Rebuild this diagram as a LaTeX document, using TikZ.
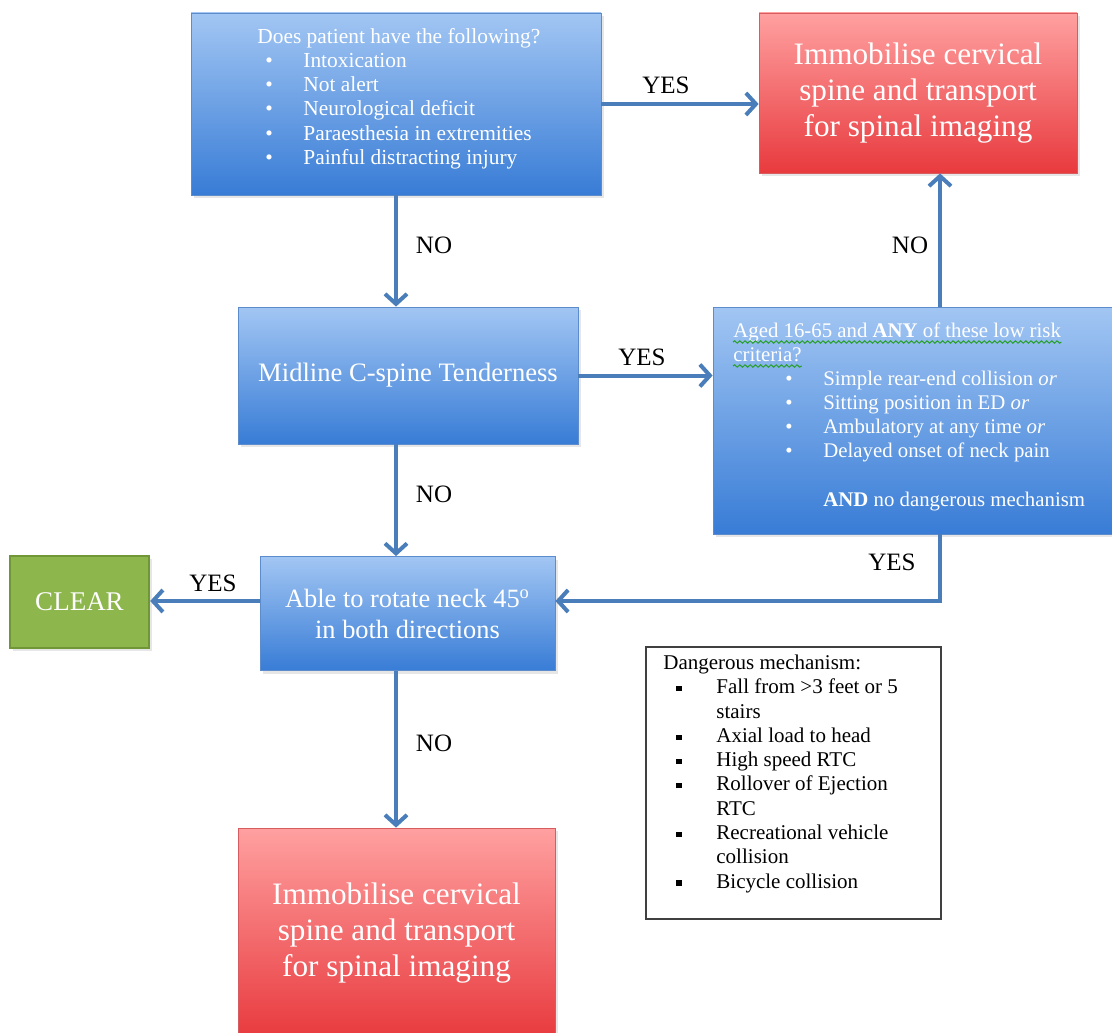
\documentclass[tikz,border=0pt]{standalone}
\usepackage{fontspec}
\setmainfont{Liberation Serif}
\usetikzlibrary{arrows.meta,shadows,decorations.pathmorphing}
\definecolor{bluetop}{RGB}{162,198,243}
\definecolor{bluebot}{RGB}{56,124,214}
\definecolor{blueedge}{RGB}{92,140,204}
\definecolor{redtop}{RGB}{255,160,160}
\definecolor{redbot}{RGB}{232,58,62}
\definecolor{rededge}{RGB}{214,92,96}
\definecolor{greenfill}{RGB}{141,182,76}
\definecolor{greenedge}{RGB}{112,150,56}
\definecolor{flowblue}{RGB}{74,126,187}
\definecolor{squig}{RGB}{40,160,40}
\begin{document}
\begin{tikzpicture}[x=0.5pt,y=-0.5pt,
  bluebox/.style={draw=blueedge,top color=bluetop,bottom color=bluebot,inner sep=0pt,
    drop shadow={opacity=0.2,shadow xshift=1.5pt,shadow yshift=-1.5pt},text=white,align=center},
  redbox/.style={draw=rededge,top color=redtop,bottom color=redbot,inner sep=0pt,
    drop shadow={opacity=0.2,shadow xshift=1.5pt,shadow yshift=-1.5pt},text=white,align=center,
    font=\fontsize{15.6}{18}\selectfont},
  greenbox/.style={draw=greenedge,line width=1.2pt,fill=greenfill,inner sep=0pt,
    drop shadow={opacity=0.2,shadow xshift=1.5pt,shadow yshift=-1.5pt},text=white,
    font=\fontsize{13.5}{16}\selectfont},
  notebox/.style={draw=black!75,line width=0.8pt,fill=white,inner sep=0pt},
  listtext/.style={anchor=north west,inner sep=0pt},
  flow/.style={draw=flowblue,line width=2pt,-{Straight Barb[length=5pt,width=11pt]}},
  lab/.style={font=\fontsize{12.5}{14}\selectfont,inner sep=0pt},
  spellwave/.style={draw=squig,line width=0.5pt,decorate,
    decoration={snake,amplitude=0.6pt,segment length=2.6pt}}]

\useasboundingbox (0,0) rectangle (1112,1032);
\clip (0,0) rectangle (1112,1032);

\node[bluebox,minimum width=205pt,minimum height=91pt] (ask) at (396,104) {};
\node[listtext,text=white,font=\fontsize{10.7}{12.1}\selectfont] (asklist) at (257,26)
  {\begin{tabular}{@{}p{23pt}@{}l@{}}
  \multicolumn{2}{@{}l@{}}{Does patient have the following?}\\
  \hspace*{4pt}\textbullet & Intoxication\\
  \hspace*{4pt}\textbullet & Not alert\\
  \hspace*{4pt}\textbullet & Neurological deficit\\
  \hspace*{4pt}\textbullet & Paraesthesia in extremities\\
  \hspace*{4pt}\textbullet & Painful distracting injury
\end{tabular}};

\node[redbox,minimum width=159pt,minimum height=80pt] (immo1) at (918,93)
  {Immobilise cervical\\spine and transport\\for spinal imaging};

\node[bluebox,minimum width=170pt,minimum height=68.5pt,font=\fontsize{13.3}{16}\selectfont]
  (mid) at (408,375.5) {Midline C-spine Tenderness};

\node[bluebox,minimum width=200pt,minimum height=113.5pt] (aged) at (913,420.5) {};
\node[inner sep=0pt,anchor=base west,text=white,font=\fontsize{10.4}{12.1}\selectfont]
  (agedA) at (733,337) {Aged 16-65 and \textbf{ANY} of these low risk};
\node[inner sep=0pt,anchor=base west,text=white,font=\fontsize{10.4}{12.1}\selectfont]
  (agedB) at (733,361) {criteria?};
\draw[spellwave] ([yshift=-2.5pt]agedA.base west) -- ([yshift=-2.5pt]agedA.base east);
\draw[spellwave] ([yshift=-2.5pt]agedB.base west) -- ([yshift=-2.5pt]agedB.base east);
\node[listtext,text=white,font=\fontsize{10.4}{12.1}\selectfont] (agedlist) at (733,368)
  {\begin{tabular}{@{}p{45pt}@{}l@{}}
  \hspace*{26pt}\textbullet & Simple rear-end collision \textit{or}\\
  \hspace*{26pt}\textbullet & Sitting position in ED \textit{or}\\
  \hspace*{26pt}\textbullet & Ambulatory at any time \textit{or}\\
  \hspace*{26pt}\textbullet & Delayed onset of neck pain\\
  & \\
  & \textbf{AND} no dangerous mechanism
\end{tabular}};

\node[bluebox,minimum width=147.5pt,minimum height=57pt,font=\fontsize{13.2}{15.5}\selectfont]
  (able) at (407.5,613.5) {Able to rotate neck 45\textsuperscript{o}\\in both directions};

\node[greenbox,minimum width=69.5pt,minimum height=46pt] (clear) at (79.5,602) {CLEAR};

\node[redbox,minimum width=158.5pt,minimum height=105pt] (immo2) at (396.5,933)
  {Immobilise cervical\\spine and transport\\for spinal imaging};

\node[notebox,minimum width=147.5pt,minimum height=136pt] (danger) at (793.5,783) {};
\node[listtext,font=\fontsize{10.5}{12.15}\selectfont] (dangerlist) at (663,652)
  {\begin{tabular}{@{}p{26.5pt}@{}l@{}}
  \multicolumn{2}{@{}l@{}}{Dangerous mechanism:}\\
  \hspace*{6.5pt}\rule[1.3pt]{2.6pt}{2.6pt} & Fall from >3 feet or 5\\
  & stairs\\
  \hspace*{6.5pt}\rule[1.3pt]{2.6pt}{2.6pt} & Axial load to head\\
  \hspace*{6.5pt}\rule[1.3pt]{2.6pt}{2.6pt} & High speed RTC\\
  \hspace*{6.5pt}\rule[1.3pt]{2.6pt}{2.6pt} & Rollover of Ejection\\
  & RTC\\
  \hspace*{6.5pt}\rule[1.3pt]{2.6pt}{2.6pt} & Recreational vehicle\\
  & collision\\
  \hspace*{6.5pt}\rule[1.3pt]{2.6pt}{2.6pt} & Bicycle collision
\end{tabular}};

\coordinate (bend) at (940,601);

\draw[flow] (ask.east) -- (ask.east -| immo1.west);
\draw[flow] (ask.south) -- (ask.south |- mid.north);
\draw[flow] (mid.east) -- (mid.east -| aged.west);
\draw[flow] (aged.north -| bend) -- (immo1.south -| bend);
\draw[flow] (mid.south -| ask.south) -- (able.north -| ask.south);
\draw[flow] (aged.south -| bend) -- (bend) -- (bend -| able.east);
\draw[flow] (bend -| able.west) -- (bend -| clear.east);
\draw[flow] (able.south -| ask.south) -- (immo2.north -| ask.south);

\node[lab] (yes1) at (666,85) {YES};
\node[lab] (no1) at (434,245) {NO};
\node[lab] (no2) at (910,245) {NO};
\node[lab] (yes2) at (642,357) {YES};
\node[lab] (no3) at (434,494) {NO};
\node[lab] (yes3) at (892,562) {YES};
\node[lab] (yes4) at (213,583) {YES};
\node[lab] (no4) at (434,743) {NO};

\end{tikzpicture}
\end{document}
